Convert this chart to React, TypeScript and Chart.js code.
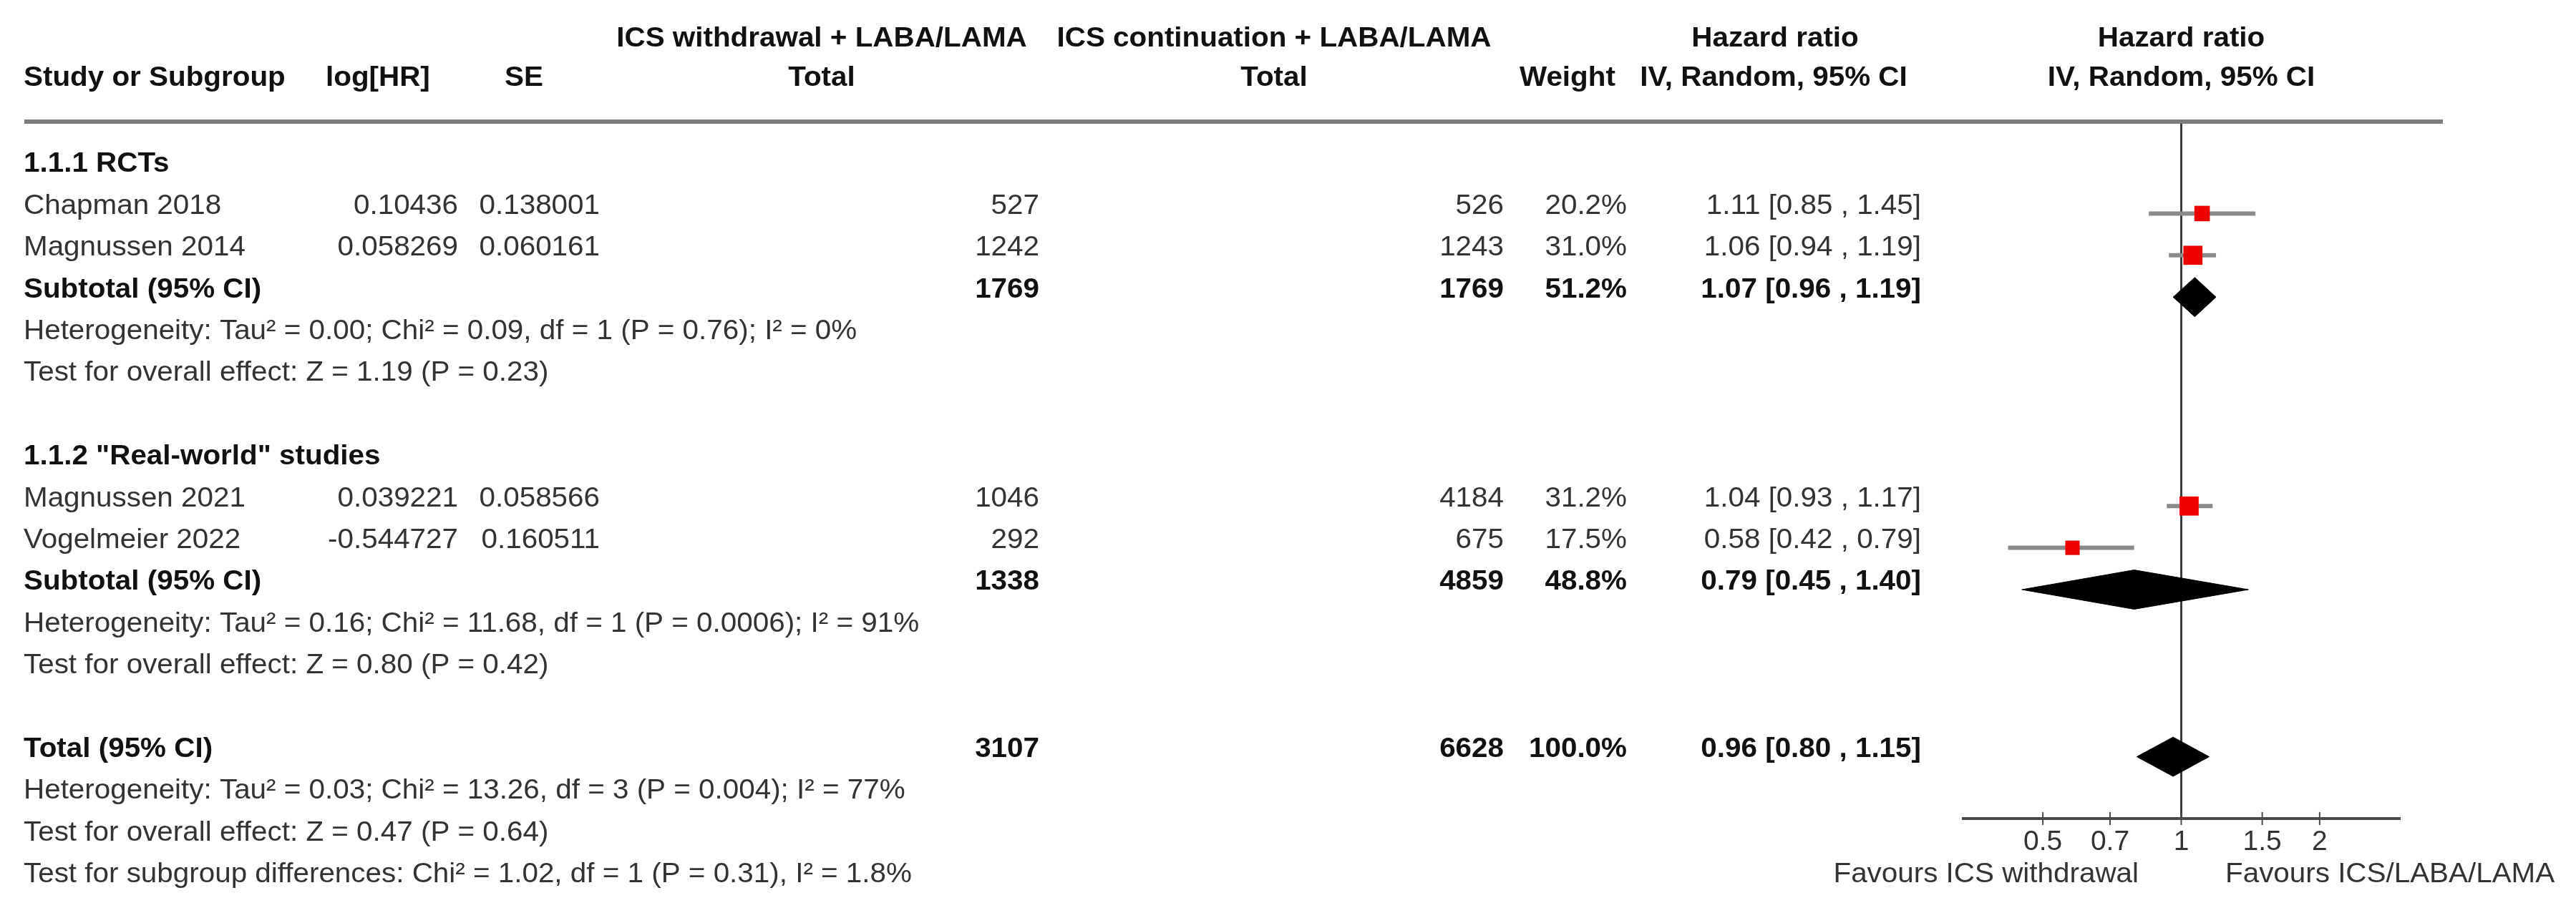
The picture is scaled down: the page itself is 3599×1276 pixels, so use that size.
import React, { useEffect, useRef } from 'react';
import { Chart, registerables } from 'chart.js';

Chart.register(...registerables);

// ---------------- data ----------------
const groupHeaders = ['1.1.1 RCTs', '1.1.2 "Real-world" studies'];
const groupRows = [0, 7];

const studyNames = ['Chapman 2018', 'Magnussen 2014', 'Magnussen 2021', 'Vogelmeier 2022'];
const studyRows = [1, 2, 8, 9];
const logHR = ['0.10436', '0.058269', '0.039221', '-0.544727'];
const seValues = ['0.138001', '0.060161', '0.058566', '0.160511'];
const withdrawalTotals = [527, 1242, 1046, 292];
const continuationTotals = [526, 1243, 4184, 675];
const studyWeights = [20.2, 31.0, 31.2, 17.5];
const studyHR = [1.11, 1.06, 1.04, 0.58];
const studyLow = [0.85, 0.94, 0.93, 0.42];
const studyHigh = [1.45, 1.19, 1.17, 0.79];

const pooledNames = ['Subtotal (95% CI)', 'Subtotal (95% CI)', 'Total (95% CI)'];
const pooledRows = [3, 10, 14];
const pooledWithdrawal = [1769, 1338, 3107];
const pooledContinuation = [1769, 4859, 6628];
const pooledWeights = [51.2, 48.8, 100.0];
const pooledHR = [1.07, 0.79, 0.96];
const pooledLow = [0.96, 0.45, 0.8];
const pooledHigh = [1.19, 1.4, 1.15];

const statLines = [
  'Heterogeneity: Tau\u00b2 = 0.00; Chi\u00b2 = 0.09, df = 1 (P = 0.76); I\u00b2 = 0%',
  'Test for overall effect: Z = 1.19 (P = 0.23)',
  'Heterogeneity: Tau\u00b2 = 0.16; Chi\u00b2 = 11.68, df = 1 (P = 0.0006); I\u00b2 = 91%',
  'Test for overall effect: Z = 0.80 (P = 0.42)',
  'Heterogeneity: Tau\u00b2 = 0.03; Chi\u00b2 = 13.26, df = 3 (P = 0.004); I\u00b2 = 77%',
  'Test for overall effect: Z = 0.47 (P = 0.64)',
  'Test for subgroup differences: Chi\u00b2 = 1.02, df = 1 (P = 0.31), I\u00b2 = 1.8%',
];
const statRows = [4, 5, 11, 12, 15, 16, 17];

const xTicks = [0.5, 0.7, 1, 1.5, 2];
const xMin = 1 / 3;
const xMax = 3;
const favoursLeft = 'Favours ICS withdrawal';
const favoursRight = 'Favours ICS/LABA/LAMA';

// ---------------- layout ----------------
const W = 3599;
const H = 1276;
const AREA_LEFT = 2741;
const AREA_RIGHT = 3354;
const AREA_TOP = 170;
const AREA_BOTTOM = 1144;
const ROW0_Y = 240;
const ROW_PX = 58.4;
const TEXT_SHIFT = -10;
const FONT = '"Liberation Sans", Arial, sans-serif';
const FS = 38;
const SX = 1.063;
const DIAMOND_HALF = 0.47;
const SQUARE_K = 4.8;

const fmt2 = (v: number) => v.toFixed(2);
const ciText = (h: number, l: number, u: number) => `${fmt2(h)} [${fmt2(l)} , ${fmt2(u)}]`;

export default function App() {
  const ref = useRef<HTMLCanvasElement>(null);

  useEffect(() => {
    const canvas = ref.current;
    if (!canvas) return;

    const drawText = (
      ctx: CanvasRenderingContext2D,
      s: string,
      x: number,
      y: number,
      align: CanvasTextAlign,
      bold = false,
      color?: string
    ) => {
      ctx.save();
      ctx.font = `${bold ? 'bold ' : ''}${FS}px ${FONT}`;
      ctx.fillStyle = color || (bold ? '#111111' : '#333333');
      ctx.textBaseline = 'middle';
      ctx.textAlign = align;
      ctx.translate(x, y);
      ctx.scale(SX, 1);
      ctx.fillText(s, 0, 0);
      ctx.restore();
    };

    const forestPlugin = {
      id: 'forestDecor',
      beforeDatasetsDraw(chart: any) {
        const { ctx, chartArea, scales } = chart;
        const px = scales.x.getPixelForValue(1);
        ctx.save();
        ctx.strokeStyle = '#3a3a3a';
        ctx.lineWidth = 3;
        ctx.beginPath();
        ctx.moveTo(px, chartArea.top);
        ctx.lineTo(px, chartArea.bottom);
        ctx.stroke();
        ctx.restore();
      },
      afterDraw(chart: any) {
        const { ctx, chartArea, scales } = chart;
        const xs = scales.x;
        const ys = scales.y;
        const rowY = (r: number) => ys.getPixelForValue(r) + TEXT_SHIFT;
        const x1 = xs.getPixelForValue(1);

        // header underline
        ctx.save();
        ctx.strokeStyle = '#7c7c7c';
        ctx.lineWidth = 6;
        ctx.beginPath();
        ctx.moveTo(34, AREA_TOP);
        ctx.lineTo(3413, AREA_TOP);
        ctx.stroke();
        ctx.restore();

        // x axis line & ticks
        ctx.save();
        ctx.strokeStyle = '#4a4a4a';
        ctx.lineWidth = 4;
        ctx.beginPath();
        ctx.moveTo(chartArea.left, chartArea.bottom);
        ctx.lineTo(chartArea.right, chartArea.bottom);
        ctx.stroke();
        ctx.lineWidth = 2;
        xTicks.forEach((t) => {
          const p = xs.getPixelForValue(t);
          ctx.beginPath();
          ctx.moveTo(p, chartArea.bottom - 9);
          ctx.lineTo(p, chartArea.bottom + 9);
          ctx.stroke();
        });
        ctx.restore();

        // headers
        drawText(ctx, 'ICS withdrawal + LABA/LAMA', 1148, 55, 'center', true);
        drawText(ctx, 'ICS continuation + LABA/LAMA', 1780, 55, 'center', true);
        drawText(ctx, 'Hazard ratio', 2480, 55, 'center', true);
        drawText(ctx, 'Hazard ratio', x1, 55, 'center', true);
        drawText(ctx, 'Study or Subgroup', 33, 110, 'left', true);
        drawText(ctx, 'log[HR]', 455, 110, 'left', true);
        drawText(ctx, 'SE', 705, 110, 'left', true);
        drawText(ctx, 'Total', 1148, 110, 'center', true);
        drawText(ctx, 'Total', 1780, 110, 'center', true);
        drawText(ctx, 'Weight', 2123, 110, 'left', true);
        drawText(ctx, 'IV, Random, 95% CI', 2478, 110, 'center', true);
        drawText(ctx, 'IV, Random, 95% CI', x1, 110, 'center', true);

        groupHeaders.forEach((g, i) => drawText(ctx, g, 33, rowY(groupRows[i]), 'left', true));

        studyNames.forEach((n, i) => {
          const y = rowY(studyRows[i]);
          drawText(ctx, n, 33, y, 'left');
          drawText(ctx, logHR[i], 640, y, 'right');
          drawText(ctx, seValues[i], 838, y, 'right');
          drawText(ctx, String(withdrawalTotals[i]), 1452, y, 'right');
          drawText(ctx, String(continuationTotals[i]), 2101, y, 'right');
          drawText(ctx, studyWeights[i].toFixed(1) + '%', 2273, y, 'right');
          drawText(ctx, ciText(studyHR[i], studyLow[i], studyHigh[i]), 2684, y, 'right');
        });

        pooledNames.forEach((n, i) => {
          const y = rowY(pooledRows[i]);
          drawText(ctx, n, 33, y, 'left', true);
          drawText(ctx, String(pooledWithdrawal[i]), 1452, y, 'right', true);
          drawText(ctx, String(pooledContinuation[i]), 2101, y, 'right', true);
          drawText(ctx, pooledWeights[i].toFixed(1) + '%', 2273, y, 'right', true);
          drawText(ctx, ciText(pooledHR[i], pooledLow[i], pooledHigh[i]), 2684, y, 'right', true);
        });

        statLines.forEach((s, i) => drawText(ctx, s, 33, rowY(statRows[i]), 'left'));

        drawText(ctx, favoursLeft, 2988, 1223, 'right');
        drawText(ctx, favoursRight, 3109, 1223, 'left');
      },
    };

    const ciDatasets = studyNames.map((_, i) => ({
      type: 'line' as const,
      data: [
        { x: studyLow[i], y: studyRows[i] },
        { x: studyHigh[i], y: studyRows[i] },
      ],
      borderColor: '#8a8a8a',
      borderWidth: 6,
      pointRadius: 0,
      fill: false,
      tension: 0,
      order: 3,
    }));

    const squareDataset = {
      type: 'scatter' as const,
      data: studyRows.map((r, i) => ({ x: studyHR[i], y: r })),
      pointStyle: 'rect' as const,
      pointRadius: studyWeights.map((w) => (SQUARE_K * Math.sqrt(w)) / Math.SQRT2),
      backgroundColor: '#ee0000',
      borderWidth: 0,
      order: 0,
    };

    const diamondDatasets = pooledRows.map((r, i) => ({
      type: 'line' as const,
      data: [
        { x: pooledLow[i], y: r },
        { x: pooledHR[i], y: r - DIAMOND_HALF },
        { x: pooledHigh[i], y: r },
        { x: pooledHR[i], y: r + DIAMOND_HALF },
        { x: pooledLow[i], y: r },
      ],
      borderColor: '#000000',
      borderWidth: 1,
      backgroundColor: '#000000',
      fill: 'shape' as any,
      pointRadius: 0,
      tension: 0,
      order: 1,
    }));

    const chart = new Chart(canvas, {
      type: 'scatter',
      data: { datasets: [squareDataset, ...diamondDatasets, ...ciDatasets] as any },
      plugins: [forestPlugin],
      options: {
        responsive: false,
        animation: false,
        devicePixelRatio: 1,
        events: [],
        layout: {
          padding: { left: AREA_LEFT, right: W - AREA_RIGHT, top: AREA_TOP, bottom: 0 },
        },
        plugins: {
          legend: { display: false },
          tooltip: { enabled: false },
          title: { display: false },
        },
        scales: {
          x: {
            type: 'logarithmic',
            min: xMin,
            max: xMax,
            bounds: 'data',
            grid: { display: false, drawTicks: false },
            border: { display: false },
            afterBuildTicks: (scale: any) => {
              scale.ticks = xTicks.map((v) => ({ value: v }));
            },
            afterFit: (scale: any) => {
              scale.height = H - AREA_BOTTOM;
            },
            ticks: {
              autoSkip: false,
              maxRotation: 0,
              padding: 10,
              color: '#333333',
              font: { family: FONT, size: 39 },
              callback: (v: any) => String(v),
            },
          },
          y: {
            type: 'linear',
            display: false,
            reverse: true,
            min: (AREA_TOP - ROW0_Y) / ROW_PX,
            max: (AREA_BOTTOM - ROW0_Y) / ROW_PX,
          },
        },
      } as any,
    });

    return () => chart.destroy();
  }, []);

  return (
    <div style={{ position: 'absolute', left: 0, top: 0, width: W, height: H, background: '#ffffff' }}>
      <canvas ref={ref} width={W} height={H} style={{ display: 'block', width: W, height: H }} />
    </div>
  );
}
